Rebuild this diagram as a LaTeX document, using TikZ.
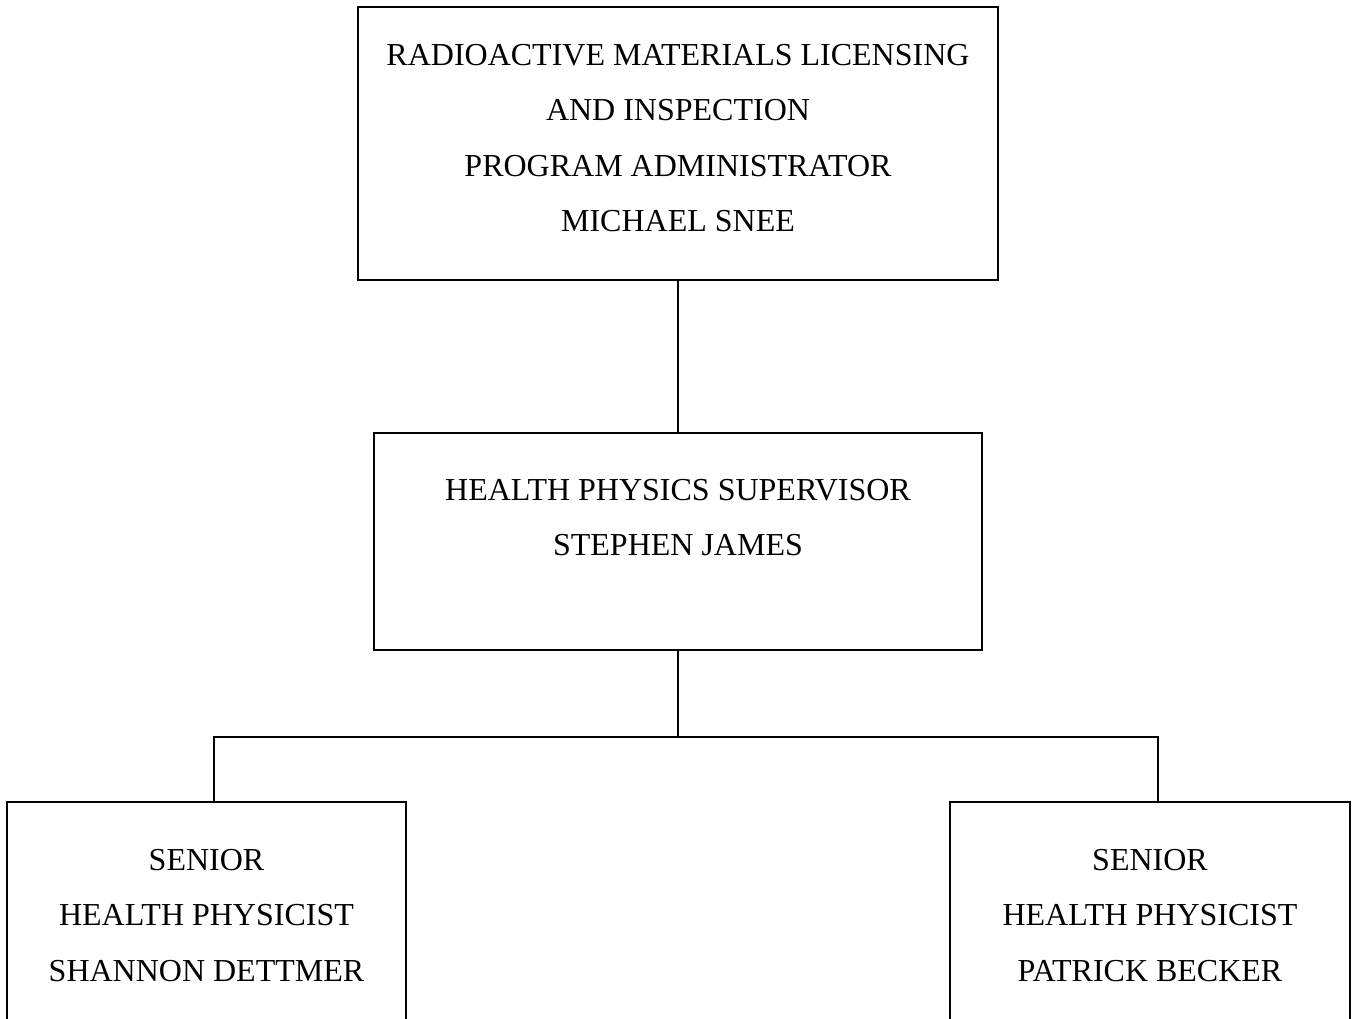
\documentclass[tikz,border=0pt]{standalone}
\usepackage{fontspec}
\setmainfont{Liberation Serif}
\begin{document}
\begin{tikzpicture}[x=0.75pt,y=-0.75pt,
  box/.style={draw=black, line width=1.3pt, fill=none},
  txt/.style={anchor=base, inner sep=0pt, font=\fontsize{24pt}{28pt}\selectfont},
  conn/.style={draw=black, line width=1.1pt}]
\useasboundingbox (0,0) rectangle (1354,1019);
\clip (0,0) rectangle (1354,1019);
\fill[white] (0,0) rectangle (1354,1019);
% boxes
\draw[box] (358,7) rectangle (998,280);
\coordinate (topS) at (678,280);
\draw[box] (374,433) rectangle (982,650);
\coordinate (midN) at (678,433);
\coordinate (midS) at (678,650);
\draw[box] (7,802) rectangle (406,1040);
\coordinate (leftN) at (214,802);
\draw[box] (950,802) rectangle (1350,1040);
\coordinate (rightN) at (1158,802);
% texts
\node[txt] (t1) at (678,65.5) {RADIOACTIVE MATERIALS LICENSING};
\node[txt] (t2) at (678,121) {AND INSPECTION};
\node[txt] (t3) at (678,176.5) {PROGRAM ADMINISTRATOR};
\node[txt] (t4) at (678,232) {MICHAEL SNEE};
\node[txt] (m1) at (678,500.5) {HEALTH PHYSICS SUPERVISOR};
\node[txt] (m2) at (678,556) {STEPHEN JAMES};
\node[txt] (l1) at (206.5,870) {SENIOR};
\node[txt] (l2) at (206.5,925.5) {HEALTH PHYSICIST};
\node[txt] (l3) at (206.5,981) {SHANNON DETTMER};
\node[txt] (r1) at (1150,870) {SENIOR};
\node[txt] (r2) at (1150,925.5) {HEALTH PHYSICIST};
\node[txt] (r3) at (1150,981) {PATRICK BECKER};
% connectors
\coordinate (bus) at (678,737);
\draw[conn] (topS) -- (midN);
\draw[conn] (midS) -- (bus);
\draw[conn] (leftN) |- (bus) -| (rightN);
\end{tikzpicture}
\end{document}
